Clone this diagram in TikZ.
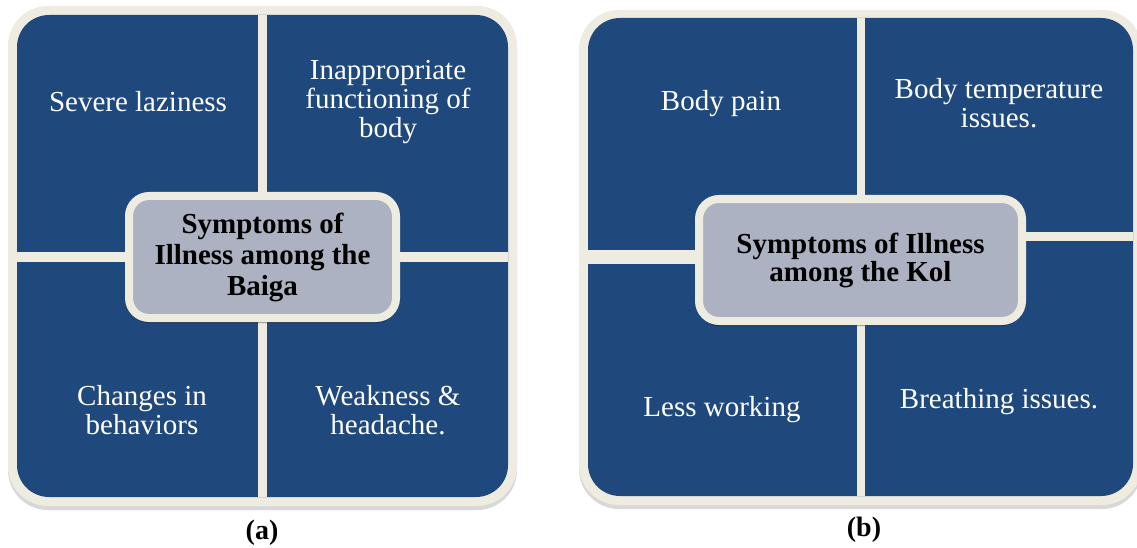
\documentclass[tikz,border=0pt]{standalone}
\usepackage{fontspec}
\setmainfont{Liberation Serif}
\usetikzlibrary{shadows}
\definecolor{qblue}{RGB}{31,73,125}
\definecolor{cream}{RGB}{238,236,225}
\definecolor{cgrey}{RGB}{172,178,193}
\tikzset{
  frame/.style={fill=cream, rounded corners=40pt,
    drop shadow={shadow xshift=0pt, shadow yshift=-4pt, opacity=0.25, fill=black!60}},
  inner/.style={fill=qblue, rounded corners=32pt},
  divider/.style={fill=cream},
  qtext/.style={text=white, align=center, font=\fontsize{29}{29}\selectfont, inner sep=0pt},
  centerbox/.style={rectangle, rounded corners=20pt, draw=cream, line width=8pt, fill=cgrey,
    inner sep=0pt, align=center, font=\fontsize{29}{30}\selectfont\bfseries,
    drop shadow={shadow xshift=0pt, shadow yshift=-5pt, opacity=0.35, fill=black}},
  caption/.style={font=\fontsize{28}{28}\selectfont\bfseries, fill=white,
    minimum width=140pt, minimum height=32pt, inner sep=0pt}
}
\begin{document}
\begin{tikzpicture}[x=1pt, y=-1pt]
\useasboundingbox[fill=white] (0,0) rectangle (1137,548);

% ---------- panel (a) ----------
\fill[frame] (8,6) rectangle (517,506);
\fill[inner] (17,15) rectangle (508,497);
\fill[divider] (258,15) rectangle (267,497);
\fill[divider] (17,252) rectangle (508,262);

\node[qtext] (a1) at (138,102) {Severe laziness};
\node[qtext] (a2) at (388,102) {Inappropriate\\functioning of\\body};
\node[qtext] (a3) at (142,410) {Changes in\\behaviors};
\node[qtext] (a4) at (388,410) {Weakness \&\\headache.};
\node[centerbox, minimum width=267pt, minimum height=122pt, font=\fontsize{29}{31}\selectfont\bfseries]
  (ac) at (262.5,257) {Symptoms of\\Illness among the\\Baiga};
\node[caption] (capa) at (262,533) {(a)};

% ---------- panel (b) ----------
\fill[frame] (579,10) rectangle (1142,505);
\fill[inner] (588,18) rectangle (1133,496);
\fill[divider] (857,18) rectangle (865,496);
\fill[divider] (588,250) rectangle (861,264);
\fill[divider] (861,232) rectangle (1133,241);

\node[qtext] (b1) at (721,104) {Body pain};
\node[qtext] (b2) at (999,103) {Body temperature\\issues.};
\node[qtext] (b3) at (722,410) {Less working};
\node[qtext] (b4) at (999,402) {Breathing issues.};
\node[centerbox, minimum width=323pt, minimum height=122pt, font=\fontsize{29}{28}\selectfont\bfseries]
  (bc) at (860.5,260) {Symptoms of Illness\\among the Kol};
\node[caption] (capb) at (864,530) {(b)};
\end{tikzpicture}
\end{document}
